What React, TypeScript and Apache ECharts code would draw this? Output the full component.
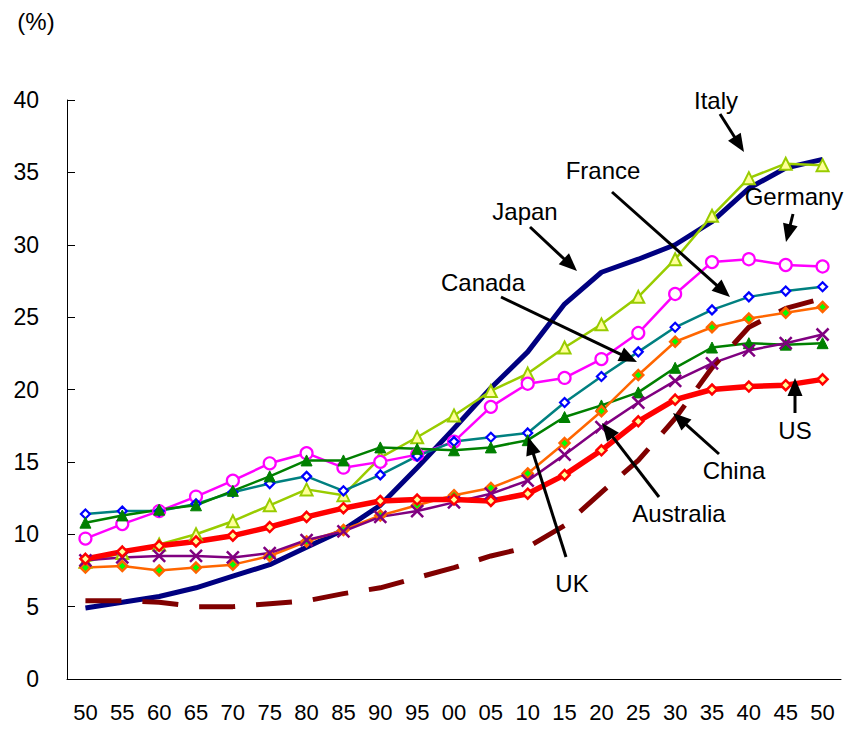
import React, { useEffect, useRef } from "react";
import * as echarts from "echarts";

// Share of population aged 65 and over, 1950–2050 (%)
const years = ["50", "55", "60", "65", "70", "75", "80", "85", "90", "95", "00", "05", "10", "15", "20", "25", "30", "35", "40", "45", "50"];

const japan = [4.9, 5.3, 5.7, 6.3, 7.1, 7.9, 9.1, 10.3, 12.0, 14.6, 17.3, 20.1, 22.6, 25.9, 28.1, 29.0, 30.0, 31.6, 33.9, 35.3, 35.9];
const italy = [8.1, 8.7, 9.3, 10.0, 10.9, 12.0, 13.1, 12.7, 15.3, 16.7, 18.2, 19.9, 21.1, 22.9, 24.5, 26.4, 29.0, 32.0, 34.6, 35.6, 35.5];
const germany = [9.7, 10.7, 11.6, 12.6, 13.7, 14.9, 15.6, 14.6, 15.0, 15.5, 16.4, 18.8, 20.4, 20.8, 22.1, 23.9, 26.6, 28.8, 29.0, 28.6, 28.5];
const france = [11.4, 11.6, 11.6, 12.1, 12.9, 13.5, 14.0, 13.0, 14.1, 15.4, 16.4, 16.7, 17.0, 19.1, 20.9, 22.6, 24.3, 25.5, 26.4, 26.8, 27.1];
const uk = [10.8, 11.3, 11.7, 12.0, 13.0, 14.0, 15.1, 15.1, 16.0, 15.9, 15.8, 16.0, 16.5, 18.1, 18.9, 19.8, 21.5, 22.9, 23.2, 23.1, 23.2];
const canada = [7.7, 7.8, 7.5, 7.7, 7.9, 8.5, 9.5, 10.3, 11.3, 12.0, 12.7, 13.2, 14.2, 16.3, 18.5, 21.0, 23.3, 24.3, 24.9, 25.3, 25.7];
const australia = [8.2, 8.4, 8.5, 8.5, 8.4, 8.7, 9.6, 10.2, 11.2, 11.6, 12.2, 12.8, 13.7, 15.5, 17.4, 19.1, 20.6, 21.8, 22.7, 23.2, 23.8];
const us = [8.3, 8.8, 9.2, 9.5, 9.9, 10.5, 11.2, 11.8, 12.3, 12.4, 12.4, 12.3, 12.8, 14.1, 15.8, 17.8, 19.3, 20.0, 20.2, 20.3, 20.7];
const china = [5.4, 5.4, 5.3, 5.0, 5.0, 5.2, 5.4, 5.9, 6.3, 7.0, 7.7, 8.5, 9.1, 10.6, 12.9, 15.1, 18.0, 21.5, 24.3, 25.6, 26.3];

const yTicks = { min: 0, max: 40, interval: 5 };

const FONT = "'Liberation Sans', Arial, Helvetica, sans-serif";

// Country callouts: label centre, arrow tail and arrow tip (pixels)
type Pt = [number, number];
type Callout = { text: string; label: Pt; tail: Pt; tip: Pt };
const callouts: Callout[] = [
  { text: "Italy", label: [716, 100], tail: [720, 114], tip: [744, 152] },
  { text: "France", label: [603, 170], tail: [612, 192], tip: [730, 297] },
  { text: "Germany", label: [794, 196], tail: [793, 214], tip: [786, 242] },
  { text: "Japan", label: [525, 211], tail: [530, 227], tip: [577, 271] },
  { text: "Canada", label: [483, 282], tail: [501, 297], tip: [637, 362] },
  { text: "UK", label: [572, 583], tail: [566, 557], tip: [528, 437] },
  { text: "Australia", label: [679, 513], tail: [659, 497], tip: [602, 423] },
  { text: "China", label: [734, 470], tail: [719, 454], tip: [673, 413] },
  { text: "US", label: [795, 430], tail: [795, 413], tip: [795, 378] },
];

function arrowElements(tail: Pt, tip: Pt) {
  const dx = tip[0] - tail[0];
  const dy = tip[1] - tail[1];
  const len = Math.hypot(dx, dy);
  const ux = dx / len;
  const uy = dy / len;
  const headLen = 18;
  const halfW = 7.5;
  const bx = tip[0] - ux * headLen;
  const by = tip[1] - uy * headLen;
  return [
    {
      type: "line",
      shape: { x1: tail[0], y1: tail[1], x2: bx + ux * 3, y2: by + uy * 3 },
      style: { stroke: "#000", lineWidth: 3 },
      z: 100,
    },
    {
      type: "polygon",
      shape: {
        points: [
          [tip[0], tip[1]],
          [bx - uy * halfW, by + ux * halfW],
          [bx + uy * halfW, by - ux * halfW],
        ],
      },
      style: { fill: "#000" },
      z: 100,
    },
  ];
}

function textElement(text: string, x: number, y: number, size: number) {
  return {
    type: "text",
    x,
    y,
    z: 100,
    style: {
      text,
      fill: "#000",
      fontSize: size,
      fontFamily: FONT,
      align: "center",
      verticalAlign: "middle",
      textAlign: "center",
      textVerticalAlign: "middle",
    },
  };
}

const crossSymbol = "path://M0,0L10,10M10,0L0,10";

function lineSeries(
  name: string,
  data: number[],
  color: string,
  width: number,
  symbol: string,
  symbolSize: number,
  fill: string,
  border: string,
  borderWidth: number,
  dash?: number[]
) {
  return {
    name,
    type: "line",
    data,
    smooth: false,
    symbol,
    symbolSize,
    showSymbol: symbol !== "none",
    lineStyle: { color, width, type: dash ? dash : "solid", cap: "butt", join: "round" },
    itemStyle: { color: fill, borderColor: border, borderWidth },
    emphasis: { disabled: true },
  };
}

export default function App() {
  const ref = useRef<HTMLDivElement>(null);

  useEffect(() => {
    document.body.style.margin = "0";
    if (!ref.current) return;
    const chart = echarts.init(ref.current, undefined, { renderer: "svg" });

    const graphics: any[] = [textElement("(%)", 36, 21, 24)];
    callouts.forEach((c) => {
      graphics.push(...arrowElements(c.tail, c.tip));
      graphics.push(textElement(c.text, c.label[0], c.label[1], 24));
    });

    chart.setOption({
      animation: false,
      backgroundColor: "#fff",
      grid: { left: 67, right: 19, top: 100, bottom: 50, containLabel: false },
      xAxis: {
        type: "category",
        data: years,
        boundaryGap: true,
        axisLine: { lineStyle: { color: "#000", width: 1 } },
        axisTick: { inside: true, length: 8, interval: 0, lineStyle: { color: "#000" } },
        axisLabel: { interval: 0, margin: 22, fontSize: 22, color: "#000", fontFamily: FONT },
        splitLine: { show: false },
      },
      yAxis: {
        type: "value",
        min: yTicks.min,
        max: yTicks.max,
        interval: yTicks.interval,
        axisLine: { show: true, lineStyle: { color: "#000", width: 1 } },
        axisTick: { show: true, inside: true, length: 8, lineStyle: { color: "#000" } },
        axisLabel: { margin: 28, fontSize: 23, color: "#000", fontFamily: FONT },
        splitLine: { show: false },
      },
      series: [
        lineSeries("Japan", japan, "#000080", 5, "none", 0, "#000080", "#000080", 0),
        lineSeries("Italy", italy, "#99CC00", 2.5, "triangle", 12, "#FFFF99", "#99CC00", 2),
        lineSeries("Germany", germany, "#FF00FF", 2.5, "circle", 12, "#FFFFFF", "#FF00FF", 2.2),
        lineSeries("France", france, "#008080", 2.5, "diamond", 9, "#FFFFFF", "#0000FF", 2.2),
        lineSeries("UK", uk, "#008000", 2.5, "triangle", 11, "#008000", "#008000", 1),
        lineSeries("Canada", canada, "#FF6600", 2.5, "diamond", 10, "#00FF00", "#FF6600", 2.5),
        lineSeries("Australia", australia, "#800080", 2.5, crossSymbol, 12, "#800080", "#800080", 2.5),
        lineSeries("US", us, "#FF0000", 5.5, "diamond", 10, "#FFFF99", "#FF0000", 2.5),
        lineSeries("China", china, "#800000", 5, "none", 0, "#800000", "#800000", 0, [36, 21]),
      ],
      graphic: { elements: graphics },
    });

    return () => {
      chart.dispose();
    };
  }, []);

  return <div ref={ref} style={{ width: 860, height: 729, background: "#fff" }} />;
}
